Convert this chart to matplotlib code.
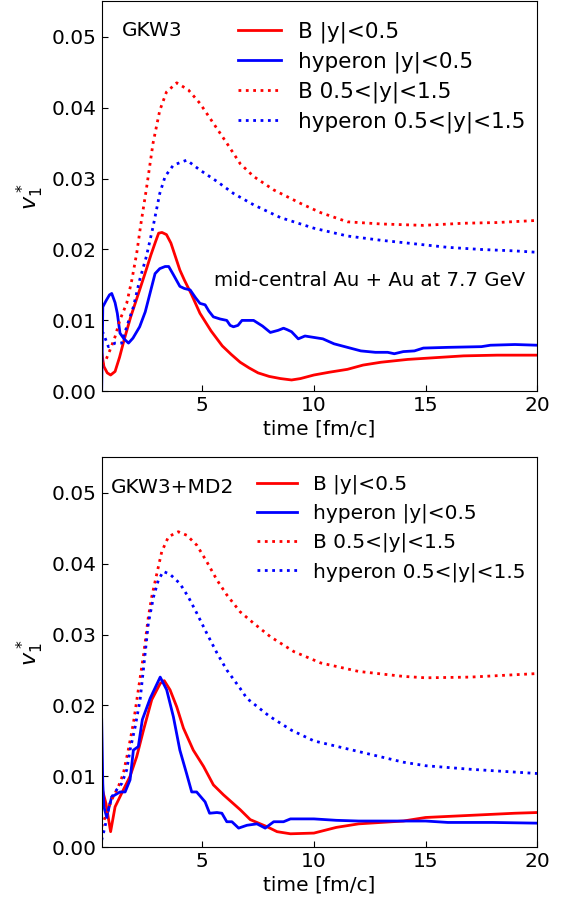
import matplotlib
matplotlib.use("Agg")
import matplotlib.pyplot as plt

# ---------------- data: top panel (GKW3) ----------------
t1_B_mid = [0.5,0.6,0.75,0.9,1.1,1.3,1.5,1.8,2.2,2.5,2.7,2.9,3.05,3.2,3.4,3.6,3.8,4.0,4.2,4.5,4.9,5.4,5.9,6.3,6.7,7.1,7.5,8.0,8.5,9.0,9.4,10.0,10.7,11.5,12.2,13.0,14.2,15.2,16.7,18.2,20]
v1_B_mid = [0.0055,0.0035,0.0026,0.0023,0.0028,0.0048,0.0072,0.0105,0.0143,0.0172,0.0192,0.021,0.0223,0.0224,0.0221,0.0209,0.019,0.0171,0.0157,0.0138,0.011,0.0085,0.0064,0.0052,0.0041,0.0033,0.0026,0.0021,0.0018,0.0016,0.0018,0.0023,0.0027,0.0031,0.0037,0.0041,0.0045,0.0047,0.0050,0.0051,0.0051]

t1_Y_mid = [0.5,0.55,0.7,0.85,0.95,1.1,1.2,1.32,1.5,1.7,1.9,2.2,2.45,2.67,2.89,3.1,3.34,3.5,3.7,4.0,4.2,4.46,4.7,4.9,5.13,5.3,5.5,5.8,6.1,6.25,6.4,6.6,6.78,7.3,7.7,8.05,8.4,8.64,8.8,9.0,9.3,9.6,10,10.4,10.9,11.5,12.1,12.75,13.3,13.6,14.0,14.5,14.9,16.0,17.5,17.9,19.0,20]
v1_Y_mid = [0.0,0.0119,0.0128,0.0136,0.0138,0.0125,0.011,0.0082,0.0074,0.0068,0.0075,0.0091,0.0112,0.0139,0.0166,0.0173,0.0176,0.0176,0.0165,0.0148,0.0145,0.0143,0.0132,0.0124,0.0122,0.0113,0.0105,0.0102,0.0100,0.0093,0.0091,0.0093,0.0100,0.0100,0.0092,0.0083,0.0086,0.0089,0.0087,0.0084,0.0074,0.0078,0.0076,0.0074,0.0067,0.0062,0.0057,0.0055,0.0055,0.0053,0.0056,0.0057,0.0061,0.0062,0.0063,0.0065,0.0066,0.0065]

t1_B_fwd = [0.5,0.7,0.87,1.1,1.32,1.62,1.85,2.07,2.25,2.5,2.8,3.1,3.4,3.86,4.38,4.9,5.5,6.1,6.7,7.3,8.2,9.4,10.3,11.5,13.0,14.9,16.7,18.2,20]
v1_B_fwd = [0.0038,0.0045,0.0058,0.0077,0.0101,0.0124,0.0157,0.0195,0.0235,0.0285,0.035,0.0396,0.0422,0.0435,0.0425,0.0406,0.0378,0.035,0.0321,0.0303,0.0284,0.0265,0.0252,0.0239,0.0236,0.0234,0.0237,0.0238,0.0241]

t1_Y_fwd = [0.5,0.57,0.8,1.1,1.4,1.62,1.92,2.2,2.5,2.8,3.1,3.34,3.71,4.31,4.9,5.66,6.4,7.3,8.5,10,11.5,13,14.5,16,17.5,19,20]
v1_Y_fwd = [0.0084,0.0082,0.0063,0.0068,0.0068,0.0091,0.0119,0.0157,0.019,0.0232,0.0279,0.0303,0.0319,0.0326,0.0312,0.0296,0.0279,0.0263,0.0245,0.023,0.0219,0.0213,0.0208,0.0203,0.0200,0.0198,0.0196]

# ---------------- data: bottom panel (GKW3+MD2) ----------------
t2_B_mid = [0.5,0.69,0.9,1.1,1.47,1.77,2.07,2.37,2.74,3.12,3.3,3.56,3.86,4.16,4.6,5.06,5.5,5.95,6.7,7.15,7.9,8.35,8.95,10,11,12,13,14,15,17,19,20]
v2_B_mid = [0.0085,0.0062,0.0022,0.0057,0.0081,0.010,0.0128,0.0165,0.0208,0.0231,0.0235,0.0222,0.0198,0.0168,0.0137,0.0114,0.0088,0.0074,0.0053,0.0039,0.0029,0.0022,0.0019,0.0020,0.0028,0.0033,0.0035,0.0037,0.0042,0.0045,0.0048,0.0049]

t2_Y_mid = [0.5,0.55,0.6,0.72,0.95,1.32,1.55,1.77,1.92,2.14,2.32,2.67,3.12,3.41,3.71,4.0,4.3,4.53,4.75,5.13,5.33,5.66,5.88,6.1,6.33,6.63,7.0,7.45,7.82,8.2,8.64,8.95,10,11,12,13,15,16,18,20]
v2_Y_mid = [0.018,0.009,0.0057,0.0043,0.0071,0.0078,0.0078,0.0095,0.0137,0.0142,0.018,0.021,0.024,0.0222,0.0184,0.0137,0.0104,0.0078,0.0078,0.0064,0.0048,0.0049,0.0048,0.0036,0.0036,0.0027,0.0031,0.0033,0.0027,0.0036,0.0036,0.004,0.004,0.0038,0.0037,0.0037,0.0037,0.0035,0.0035,0.0034]

t2_B_fwd = [0.5,0.72,0.95,1.24,1.47,1.69,1.92,2.14,2.37,2.59,2.74,2.97,3.19,3.49,3.93,4.31,4.76,5.2,5.66,6.1,6.7,7.3,8.05,9.1,10.3,12,14,15,17,20]
v2_B_fwd = [0.0029,0.0048,0.0067,0.0085,0.0104,0.0137,0.0175,0.0222,0.0270,0.0325,0.0353,0.0386,0.0417,0.0438,0.0445,0.0440,0.0426,0.0403,0.0377,0.0356,0.0332,0.0316,0.0297,0.0276,0.0260,0.0248,0.0241,0.0239,0.0240,0.0245]

t2_Y_fwd = [0.5,0.65,0.8,0.95,1.17,1.4,1.62,1.77,2.0,2.22,2.4,2.59,2.82,3.04,3.26,3.56,4.0,4.38,4.76,5.2,5.66,6.1,6.7,7,8,9,10,12,14,15,17,20]
v2_Y_fwd = [0.001,0.0029,0.0053,0.0071,0.0081,0.009,0.0109,0.0137,0.017,0.0208,0.026,0.0316,0.0353,0.0377,0.0389,0.0385,0.0372,0.0353,0.0330,0.0302,0.0274,0.0250,0.0224,0.0210,0.0185,0.0165,0.0150,0.0135,0.0120,0.0115,0.0110,0.0104]

labels = ["B |y|<0.5", "hyperon |y|<0.5", "B 0.5<|y|<1.5", "hyperon 0.5<|y|<1.5"]
xticks = [5, 10, 15, 20]
yticks = [0.00, 0.01, 0.02, 0.03, 0.04, 0.05]

W, H, DPI = 580, 905, 100
plt.rcParams['font.family'] = ['DejaVu Sans']
fig = plt.figure(figsize=(W / DPI, H / DPI), dpi=DPI)
ax1 = fig.add_axes([0.1753, 0.5676, 0.7511, 0.4310])
ax2 = fig.add_axes([0.1753, 0.0638, 0.7511, 0.4309])

def fx(px):
    return px / W

def fy(py_from_top):
    return (H - py_from_top) / H

panels = [
    (ax1, (t1_B_mid, v1_B_mid), (t1_Y_mid, v1_Y_mid), (t1_B_fwd, v1_B_fwd), (t1_Y_fwd, v1_Y_fwd)),
    (ax2, (t2_B_mid, v2_B_mid), (t2_Y_mid, v2_Y_mid), (t2_B_fwd, v2_B_fwd), (t2_Y_fwd, v2_Y_fwd)),
]

for ax, bm, ym, bf, yf in panels:
    ax.plot(*bm, color='red', lw=2, ls='-', label=labels[0])
    ax.plot(*ym, color='blue', lw=2, ls='-', label=labels[1])
    ax.plot(*bf, color='red', lw=2, ls=':', label=labels[2])
    ax.plot(*yf, color='blue', lw=2, ls=':', label=labels[3])
    ax.set_xlim(0.5, 20)
    ax.set_ylim(0, 0.055)
    ax.set_xticks(xticks)
    ax.set_yticks(yticks)
    ax.set_yticklabels(["%.2f" % v for v in yticks])
    ax.tick_params(direction='in', labelsize=14.5, length=4)
    ax.set_xlabel("time [fm/c]", fontsize=14.5, labelpad=3)
    ax.set_ylabel(r"$v_1^*$", fontsize=16, labelpad=4)

# panel annotations placed at measured pixel positions (baseline)
fig.text(fx(122.0), fy(36.3), "GKW3", fontsize=14.5, ha='left', va='baseline')
fig.text(fx(111.0), fy(492.5), "GKW3+MD2", fontsize=14.5, ha='left', va='baseline')
fig.text(fx(214.0), fy(286.0), "mid-central Au + Au at 7.7 GeV", fontsize=14.2,
         ha='left', va='baseline')

# legends: place so that the first label starts / rows sit at the measured positions
legend_specs = [
    (ax1, 15.5, 298.0, 32.3, 30.0),
    (ax2, 14.5, 313.0, 484.3, 29.2),
]
for ax, fs, tx, ty, tsp in legend_specs:
    fs_px = fs * DPI / 72.0
    lsp = 0.45
    anchor = [fx(240.0), fy(15.0)]
    for _ in range(4):
        leg = ax.legend(loc='upper left', bbox_to_anchor=tuple(anchor),
                        bbox_transform=fig.transFigure, frameon=False, fontsize=fs,
                        handlelength=2.0, handletextpad=0.8, labelspacing=lsp,
                        borderaxespad=0.0, borderpad=0.0)
        fig.canvas.draw()
        r = fig.canvas.get_renderer()
        ext = [t.get_window_extent(r) for t in leg.get_texts()]
        centers = [(e.y0 + e.y1) / 2.0 for e in ext]
        sp = sum(centers[i] - centers[i + 1] for i in range(3)) / 3.0
        row_h = sp - lsp * fs_px
        lsp = max(0.0, (tsp - row_h) / fs_px)
        dx = tx - ext[0].x0
        dy = (H - ty) - centers[0]
        anchor[0] += dx / W
        anchor[1] += dy / H

fig.savefig("out.png", dpi=DPI)
